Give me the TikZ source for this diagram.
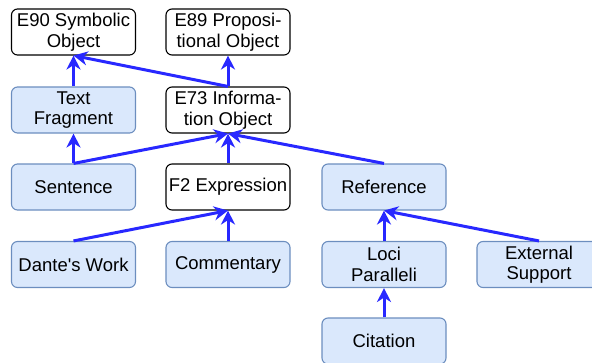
\documentclass[tikz,border=0pt]{standalone}
\usepackage{fontspec}
\setmainfont{Liberation Sans}
\usetikzlibrary{arrows.meta}
\definecolor{fillblue}{HTML}{DAE8FC}
\definecolor{edgeblue}{HTML}{6C8EBF}
\definecolor{arrowblue}{RGB}{40,40,255}
\begin{document}
\begin{tikzpicture}[x=1pt,y=-1pt,
  box/.style={draw=black, fill=white, line width=1.1pt, rounded corners=6pt,
    minimum width=124pt, minimum height=46pt, inner sep=0pt, align=center,
    font=\fontsize{18.5}{20.5}\selectfont},
  bluebox/.style={box, draw=edgeblue, fill=fillblue},
  link/.style={draw=arrowblue, line width=3pt,
    -{Stealth[length=14pt,width=14pt,inset=4.5pt]}}]
\useasboundingbox (0,0) rectangle (592,362);
\node[box] (e90) at (73.5,32) {E90 Symbolic\\Object};
\node[box] (e89) at (228,32) {E89 Proposi-\\tional Object};
\node[bluebox] (tf) at (73.5,110) {Text\\Fragment};
\node[box] (e73) at (228,110) {E73 Informa-\\tion Object};
\node[bluebox] (sen) at (73.5,187) {Sentence};
\node[box] (f2) at (228,187) {F2 Expression};
\node[bluebox] (ref) at (384,187) {Reference};
\node[bluebox] (dw) at (73.5,264.5) {Dante\textquotesingle s Work};
\node[bluebox] (com) at (228,264.5) {Commentary};
\node[bluebox] (loci) at (384,264.5) {Loci\\Paralleli};
\node[bluebox] (ext) at (539,264.5) {External\\Support};
\node[bluebox] (cit) at (384,341) {Citation};
\draw[link] (tf.north) -- (e90.south);
\draw[link] (e73.north) -- (e90.south);
\draw[link] (e73.north) -- (e89.south);
\draw[link] (sen.north) -- (tf.south);
\draw[link] (sen.north) -- (e73.south);
\draw[link] (f2.north) -- (e73.south);
\draw[link] (ref.north) -- (e73.south);
\draw[link] (dw.north) -- (f2.south);
\draw[link] (com.north) -- (f2.south);
\draw[link] (loci.north) -- (ref.south);
\draw[link] (ext.north) -- (ref.south);
\draw[link] (cit.north) -- (loci.south);
\end{tikzpicture}
\end{document}
